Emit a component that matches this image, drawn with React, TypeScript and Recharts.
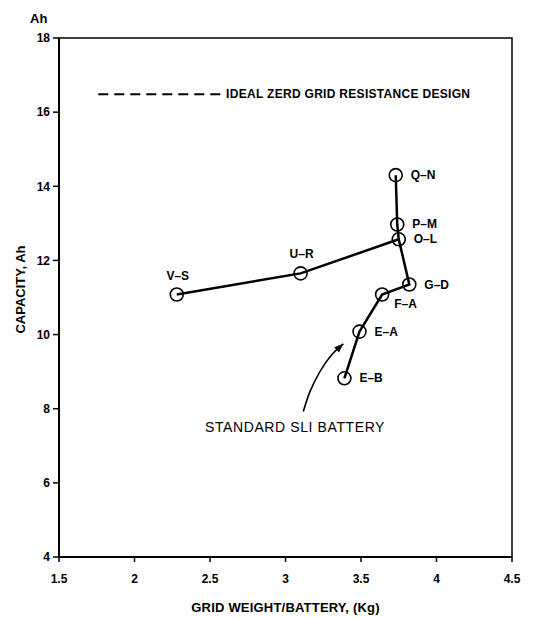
import React from 'react';
import {
  ComposedChart,
  XAxis,
  YAxis,
  Line,
  Scatter,
  ReferenceArea,
  ReferenceLine,
  ReferenceDot,
  Label,
} from 'recharts';

// ---- data ----
const names = ['Q–N', 'P–M', 'O–L', 'G–D', 'F–A', 'E–A', 'E–B', 'U–R', 'V–S'];
const gridWeights = [3.73, 3.74, 3.75, 3.82, 3.64, 3.49, 3.39, 3.1, 2.28];
const capacities = [14.3, 12.97, 12.57, 11.35, 11.08, 10.08, 8.82, 11.65, 11.08];
const mainPath = ['Q–N', 'P–M', 'O–L', 'G–D', 'F–A', 'E–A', 'E–B'];
const branchPath = ['V–S', 'U–R', 'O–L'];
const xTicks = [1.5, 2, 2.5, 3, 3.5, 4, 4.5];
const yTicks = [4, 6, 8, 10, 12, 14, 16, 18];
const arrowX = [3.118, 3.162, 3.228, 3.306, 3.383];
const arrowY = [7.925, 8.46, 9.0, 9.455, 9.75];
const legendX = [1.76, 2.6];
const legendY = 16.48;
const legendText = 'IDEAL ZERD GRID RESISTANCE DESIGN';
const noteX = 2.467;
const noteY = 7.51;
const noteText = 'STANDARD SLI BATTERY';
const xTitle = 'GRID WEIGHT/BATTERY, (Kg)';
const yTitle = 'CAPACITY, Ah';
const yUnit = 'Ah';

const points = names.map((n, i) => ({ name: n, x: gridWeights[i], y: capacities[i] }));
const byName = (n: string) => points.find((p) => p.name === n)!;
const mainData = mainPath.map(byName);
const branchData = branchPath.map(byName);
const arrowData = arrowX.map((x, i) => ({ x, y: arrowY[i] }));

const FONT = '"Liberation Sans", Arial, Helvetica, sans-serif';

const placement = (name: string) =>
  name === 'U–R' || name === 'V–S' ? 'top' : name === 'F–A' ? 'below' : 'right';

const PointShape = (props: any) => {
  const { cx, cy, payload } = props;
  const p = placement(payload.name);
  let tx = cx + 15;
  let ty = cy;
  let anchor: 'start' | 'middle' = 'start';
  if (p === 'top') {
    tx = cx + 1;
    ty = cy - 19;
    anchor = 'middle';
  } else if (p === 'below') {
    tx = cx + 12;
    ty = cy + 9;
  }
  return (
    <g>
      <circle cx={cx} cy={cy} r={6.5} fill="none" stroke="#000" strokeWidth={1.6} />
      <text
        x={tx}
        y={ty}
        textAnchor={anchor}
        dominantBaseline="central"
        fontFamily={FONT}
        fontWeight="bold"
        fontSize={12}
        fill="#000"
      >
        {payload.name}
      </text>
    </g>
  );
};

const ArrowDot = (props: any) => {
  const { cx, cy, index } = props;
  if (index !== arrowX.length - 1) return <g key={`a${index}`} />;
  return (
    <polygon
      key={`a${index}`}
      points="0,0 -9,-3.6 -9,3.6"
      fill="#000"
      transform={`translate(${cx},${cy}) rotate(-42)`}
    />
  );
};

const YTitle = (props: any) => {
  const vb = props.viewBox;
  const cy = vb.y + vb.height / 2 - 8;
  return (
    <g>
      <text
        x={vb.x + 20}
        y={cy}
        transform={`rotate(-90, ${vb.x + 20}, ${cy})`}
        textAnchor="middle"
        dominantBaseline="central"
        fontFamily={FONT}
        fontWeight="bold"
        fontSize={13}
        fill="#000"
      >
        {yTitle}
      </text>
      <text
        x={vb.x + 30}
        y={vb.y - 20}
        dominantBaseline="central"
        fontFamily={FONT}
        fontWeight="bold"
        fontSize={13}
        fill="#000"
      >
        {yUnit}
      </text>
    </g>
  );
};

const XTitle = (props: any) => {
  const vb = props.viewBox;
  return (
    <text
      x={vb.x + vb.width / 2}
      y={vb.y + 50}
      textAnchor="middle"
      dominantBaseline="central"
      fontFamily={FONT}
      fontWeight="bold"
      fontSize={13}
      letterSpacing={0.2}
      fill="#000"
    >
      {xTitle}
    </text>
  );
};

const makeText =
  (text: string, dx: number, size: number, weight: string, spacing: number) =>
  (props: any) => {
    const vb = props.viewBox;
    return (
      <text
        x={vb.x + vb.width / 2 + dx}
        y={vb.y + vb.height / 2}
        textAnchor="start"
        dominantBaseline="central"
        fontFamily={FONT}
        fontWeight={weight}
        fontSize={size}
        letterSpacing={spacing}
        fill="#000"
      >
        {text}
      </text>
    );
  };

const tickStyle = { fill: '#000', fontSize: 12, fontWeight: 'bold', fontFamily: FONT };

export default function App() {
  return (
    <div style={{ position: 'absolute', left: 0, top: 0, width: 546, height: 618, background: '#fff' }}>
      <ComposedChart
        width={546}
        height={618}
        margin={{ top: 38, right: 34, bottom: 0, left: 0 }}
        style={{ fontFamily: FONT }}
      >
        <XAxis
          type="number"
          dataKey="x"
          domain={[1.5, 4.5]}
          ticks={xTicks}
          height={61}
          tickSize={5}
          tickMargin={12}
          tick={tickStyle}
          axisLine={{ stroke: '#000', strokeWidth: 2 }}
          tickLine={{ stroke: '#000', strokeWidth: 1.5 }}
          allowDataOverflow
          label={<Label content={XTitle} />}
        />
        <YAxis
          type="number"
          dataKey="y"
          domain={[4, 18]}
          ticks={yTicks}
          width={59}
          tickSize={6}
          tickMargin={3}
          tick={tickStyle}
          axisLine={{ stroke: '#000', strokeWidth: 2 }}
          tickLine={{ stroke: '#000', strokeWidth: 1.5 }}
          allowDataOverflow
          label={<Label content={YTitle} />}
        />
        <ReferenceArea
          x1={1.5}
          x2={4.5}
          y1={4}
          y2={18}
          fill="none"
          stroke="#000"
          strokeWidth={1.5}
          fillOpacity={0}
          ifOverflow="visible"
        />
        <ReferenceLine
          segment={[
            { x: legendX[0], y: legendY },
            { x: legendX[1], y: legendY },
          ]}
          stroke="#000"
          strokeWidth={2}
          strokeDasharray="10 6"
        />
        <ReferenceDot
          x={legendX[1]}
          y={legendY}
          r={1}
          fill="none"
          stroke="none"
          label={<Label content={makeText(legendText, 1, 12, 'bold', 0.3)} />}
        />
        <ReferenceDot
          x={noteX}
          y={noteY}
          r={1}
          fill="none"
          stroke="none"
          label={<Label content={makeText(noteText, 0, 14, 'normal', 0.6)} />}
        />
        <Line
          data={mainData}
          dataKey="y"
          type="linear"
          stroke="#000"
          strokeWidth={2.5}
          dot={false}
          activeDot={false}
          isAnimationActive={false}
        />
        <Line
          data={branchData}
          dataKey="y"
          type="linear"
          stroke="#000"
          strokeWidth={2.5}
          dot={false}
          activeDot={false}
          isAnimationActive={false}
        />
        <Line
          data={arrowData}
          dataKey="y"
          type="natural"
          stroke="#000"
          strokeWidth={1.6}
          dot={ArrowDot}
          activeDot={false}
          isAnimationActive={false}
        />
        <Scatter data={points} dataKey="y" shape={PointShape} isAnimationActive={false} />
      </ComposedChart>
    </div>
  );
}
